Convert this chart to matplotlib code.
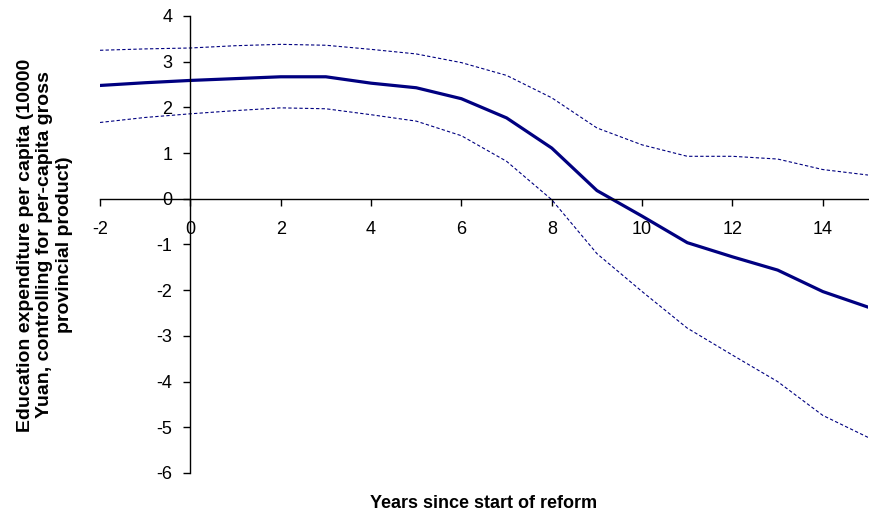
import matplotlib.pyplot as plt

plt.rcParams['axes.unicode_minus'] = False

years = [-2, -1, 0, 1, 2, 3, 4, 5, 6, 7, 8, 9, 10, 11, 12, 13, 14, 15]
estimate = [2.48, 2.54, 2.59, 2.63, 2.67, 2.67, 2.53, 2.43, 2.19, 1.77, 1.11, 0.18,
            -0.38, -0.96, -1.27, -1.56, -2.03, -2.37]
upper = [3.25, 3.28, 3.30, 3.35, 3.38, 3.36, 3.27, 3.17, 2.98, 2.70, 2.21, 1.55,
         1.18, 0.93, 0.93, 0.87, 0.64, 0.52]
lower = [1.67, 1.78, 1.86, 1.93, 1.99, 1.97, 1.84, 1.70, 1.38, 0.82, -0.02, -1.20,
         -2.03, -2.83, -3.42, -4.00, -4.74, -5.22]

navy = '#000080'

fig = plt.figure(figsize=(8.69, 5.16), dpi=100)
ax = fig.add_axes([100 / 869, 43 / 516, 768 / 869, 457 / 516])

ax.plot(years, estimate, color=navy, lw=2.3)
ax.plot(years, upper, color=navy, lw=0.8, linestyle=(0, (3, 2)))
ax.plot(years, lower, color=navy, lw=0.8, linestyle=(0, (3, 2)))

ax.set_xlim(-2, 15)
ax.set_ylim(-6, 4)
ax.set_xticks(range(-2, 16, 2))
ax.set_yticks(range(-6, 5))

ax.spines['left'].set_position(('data', 0))
ax.spines['bottom'].set_position(('data', 0))
ax.spines['top'].set_visible(False)
ax.spines['right'].set_visible(False)
for s in ('left', 'bottom'):
    ax.spines[s].set_linewidth(1)

ax.tick_params(direction='out', length=5, width=1, labelsize=13)
ax.tick_params(axis='x', pad=11)
ax.tick_params(axis='y', pad=8)
for lab in ax.get_xticklabels() + ax.get_yticklabels():
    lab.set_fontfamily('Liberation Sans')

fig.text(484 / 869, 1 - 503 / 516, 'Years since start of reform',
         ha='center', va='center', fontsize=13, fontweight='bold',
         family='Liberation Sans')
fig.text(45 / 869, 1 - 245 / 516,
         'Education expenditure per capita (10000\n'
         'Yuan, controlling for per-capita gross\n'
         'provincial product)',
         ha='center', va='center', rotation=90, multialignment='center',
         fontsize=14, fontweight='bold', family='Liberation Sans',
         linespacing=1.2)

fig.savefig('out.png', dpi=100)
